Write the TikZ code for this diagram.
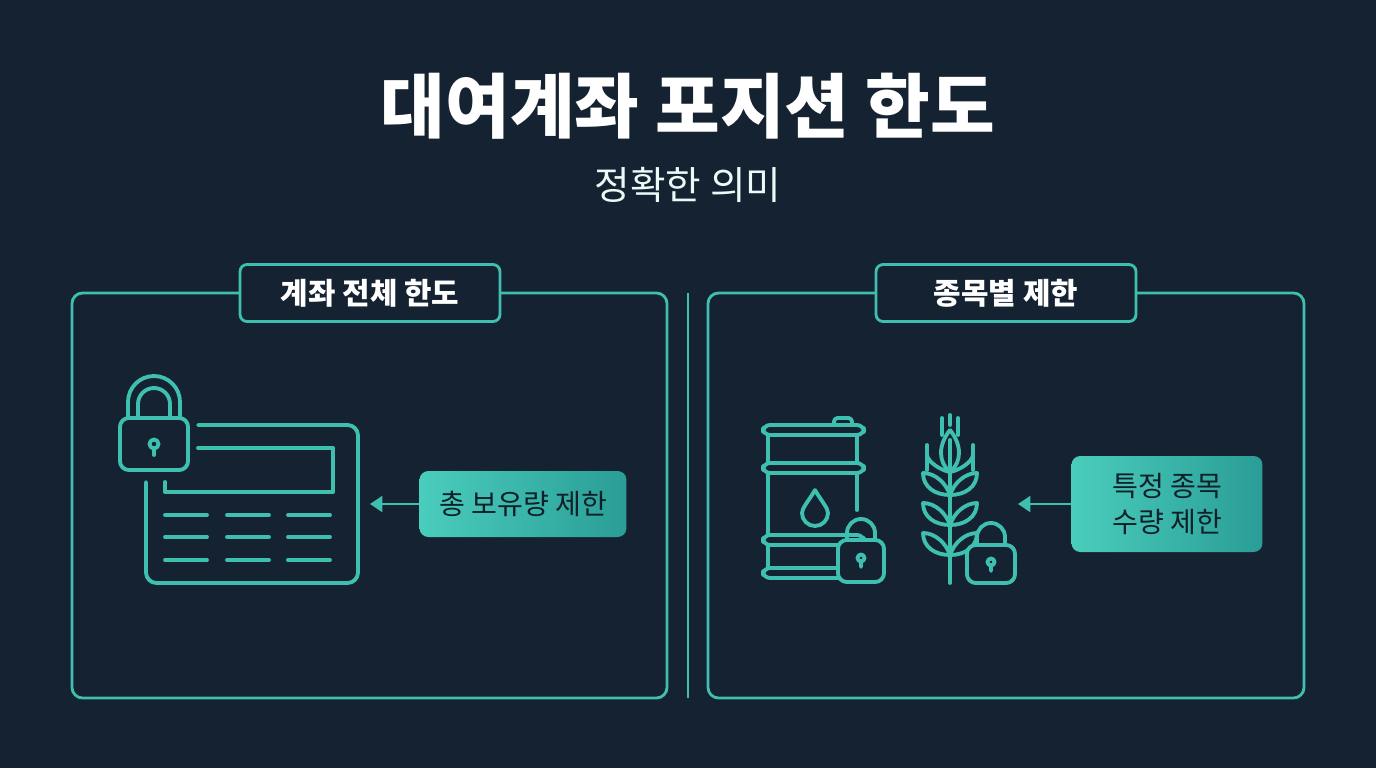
\documentclass[tikz,border=0pt]{standalone}
\usepackage{fontspec}
\setmainfont{Noto Sans CJK KR}
\usetikzlibrary{arrows.meta}
\definecolor{bgc}{HTML}{152232}
\definecolor{teal}{HTML}{3FBFB0}
\definecolor{tealA}{HTML}{4ACDBC}
\definecolor{tealB}{HTML}{2A9D96}
\definecolor{ink}{HTML}{10202A}

\def\lw{2.2pt}

\begin{document}
\begin{tikzpicture}[x=0.02cm,y=-0.02cm,
    icon/.style={draw=teal,line width=\lw,line cap=round,line join=round},
    frame/.style={draw=teal,line width=1.6pt,rounded corners=6pt},
    header/.style={draw=teal,line width=1.6pt,fill=bgc,rounded corners=4pt,
        minimum width=5.2cm,minimum height=1.14cm,font=\bfseries\fontsize{17}{20}\selectfont,text=white},
    tag/.style={rounded corners=5pt,left color=tealA,right color=tealB,
        text=ink,font=\fontsize{16}{21}\selectfont,align=center,inner sep=0pt},
    pointer/.style={draw=teal,line width=1.4pt,-{Triangle[length=7pt,width=9pt]}},
]
\fill[bgc] (0,0) rectangle (1376,768);

% titles
\node[text=white,font=\bfseries\fontsize{40}{48}\selectfont] (title) at (688,106) {대여계좌 포지션 한도};
\node[text=white!90!teal,font=\fontsize{22}{26}\selectfont] (sub) at (688,185) {정확한 의미};

% panels
\draw[frame] (72,293) rectangle (667,698);
\draw[frame] (708,293) rectangle (1304,698);
\draw[teal,line width=1.2pt] (688,293) -- (688,698);
\node[header] (hleft) at (370,293) {계좌 전체 한도};
\node[header] (hright) at (1006,293) {종목별 제한};

% left: locked ledger
\draw[icon,rounded corners=5pt] (120,418) rectangle (188,470);
\draw[icon] (128,418) -- (128,402) arc (180:360:26) -- (180,418);
\draw[icon] (138,418) -- (138,404) arc (180:360:16) -- (170,418);
\draw[icon] (154,444) circle (4.5);
\draw[icon] (154,448) -- (154,455);
\draw[icon,rounded corners=6pt] (198,425) -- (358,425) -- (358,583) -- (146,583) -- (146,482);
\draw[icon] (198,448) -- (333,448) -- (333,492) -- (165,492) -- (165,482);
\foreach \y in {515,537,560}
  \foreach \x in {165,227,288}
    \draw[icon] (\x,\y) -- ++(42,0);
\node[tag,minimum width=4.14cm,minimum height=1.32cm] (totbox) at (523,504) {총 보유량 제한};
\coordinate (totend) at (370,504);
\draw[pointer] (totbox.west) -- (totend);

% right: barrel
\draw[icon,rounded corners=2pt] (834,425) -- (834,418) -- (852,418) -- (852,425);
\foreach \y in {430,468,540,573}
  \draw[icon,rounded corners=4pt] (763,\y-5) rectangle (864,\y+5);
\draw[icon] (768,435) -- (768,463) (857,435) -- (857,463);
\draw[icon] (768,473) -- (768,535) (857,473) -- (857,510);
\draw[icon] (768,545) -- (768,568);
\draw[icon] (815,490) .. controls (808,502) and (802,508) .. (802,513)
   arc (180:0:13) .. controls (828,508) and (822,502) .. (815,490);
% barrel lock
\draw[icon,fill=bgc,rounded corners=5pt] (838,540) rectangle (884,582);
\draw[icon] (847,540) -- (847,533) arc (180:360:14) -- (875,540);
\draw[icon] (861,558) circle (3.5) (861,561) -- (861,567);

% wheat
\draw[icon] (950,583) -- (950,440);
\draw[icon] (950,430) .. controls (938,445) and (938,462) .. (950,472)
   .. controls (962,462) and (962,445) .. (950,430);
\draw[icon] (942,418) -- (942,435) (958,418) -- (958,435) (950,415) -- (950,425);
\draw[icon] (927,445) -- (927,470) (973,445) -- (973,470);
\foreach \y in {495,525,555}{
  \draw[icon] (950,\y) .. controls (946,\y-12) and (935,\y-22) .. (923,\y-22)
     .. controls (923,\y-8) and (935,\y) .. (950,\y);
  \draw[icon] (950,\y) .. controls (954,\y-12) and (965,\y-22) .. (977,\y-22)
     .. controls (977,\y-8) and (965,\y) .. (950,\y);
}
\draw[icon] (950,472) .. controls (940,470) and (928,462) .. (927,455);
\draw[icon] (950,472) .. controls (960,470) and (972,462) .. (973,455);
% wheat lock
\draw[icon,fill=bgc,rounded corners=5pt] (967,545) rectangle (1015,583);
\draw[icon] (977,545) -- (977,537) arc (180:360:14) -- (1005,545);
\draw[icon] (991,562) circle (3.5) (991,565) -- (991,571);

\node[tag,minimum width=3.82cm,minimum height=1.92cm] (itembox) at (1167,504) {특정 종목\\수량 제한};
\coordinate (itemend) at (1018,504);
\draw[pointer] (itembox.west) -- (itemend);
\end{tikzpicture}
\end{document}
